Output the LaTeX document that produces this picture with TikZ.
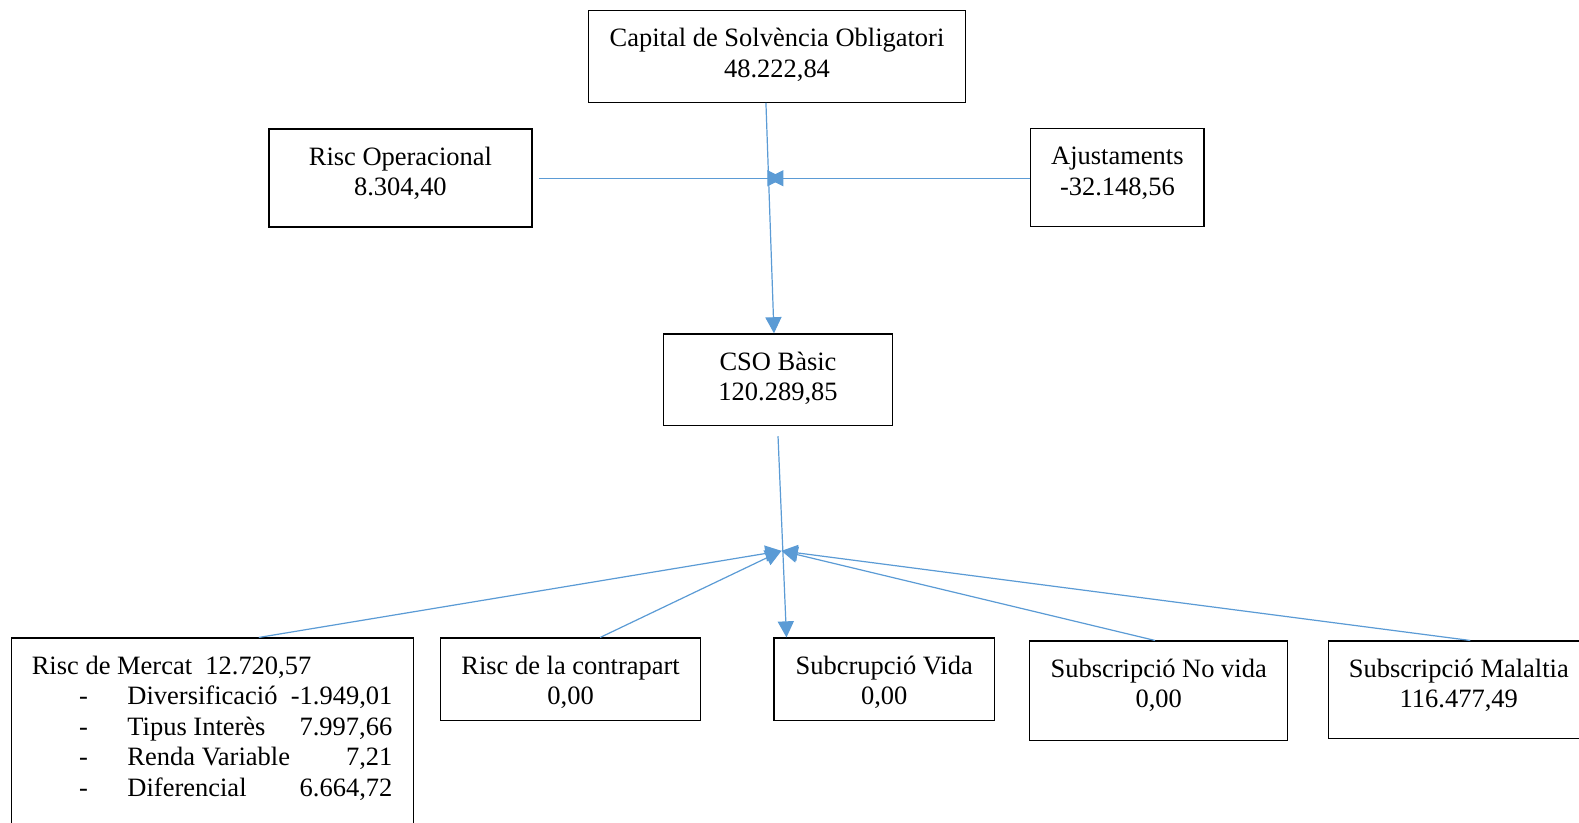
\documentclass[tikz,border=0pt]{standalone}
\usepackage{fontspec}
\setmainfont{Liberation Serif}
\usetikzlibrary{arrows.meta}
\definecolor{linkblue}{HTML}{5B9BD5}
% box text: width, height, lines (first baseline 36pt below the top)
\newcommand{\boxtext}[3]{\parbox[c][#2pt][t]{#1pt}{\centering\rule{0pt}{36pt}#3}}
% one line of the market risk box: name, value
\newcommand{\mrow}[2]{\hspace*{67pt}\makebox[48pt][l]{-}\makebox[263pt]{#1\hfill #2}}
\tikzset{
        x=1pt, y=-1pt, % pixel units, y grows downwards
        every node/.style={font=\fontsize{26.3}{30.3}\selectfont},
        box/.style={draw, line width=1.2pt, inner sep=0pt, anchor=north west}, % all rectangles
        link/.style={draw=linkblue, line width=1.2pt, -{Triangle[length=16pt,width=16pt]}}, % blue connectors
    }

\begin{document}
\begin{tikzpicture}
    \clip (0,0) rectangle (1568,817);
    \useasboundingbox (0,0) rectangle (1568,817);
    % top part
    \node[box] (cap) at (584,10) {\boxtext{374}{91}{Capital de Solvència Obligatori\\48.222,84}};
    \node[box, line width=2.2pt] (op) at (266,127) {\boxtext{261}{97}{Risc Operacional\\8.304,40}};
    \node[box] (aj) at (1023,127) {\boxtext{172}{97}{Ajustaments\\-32.148,56}};
    \node[box] (cso) at (658,331) {\boxtext{228}{91}{CSO Bàsic\\120.289,85}};
    % risk modules
    \node[box] (mer) at (11,633) {\parbox[c][217pt][t]{399pt}{\raggedright\rule{0pt}{36pt}\hspace*{20pt}Risc de Mercat\ \ 12.720,57\\
        \mrow{Diversificació}{-1.949,01}\\
        \mrow{Tipus Interès}{7.997,66}\\
        \mrow{Renda Variable}{7,21}\\
        \mrow{Diferencial}{6.664,72}}};
    \node[box] (con) at (437,633) {\boxtext{258}{82}{Risc de la contrapart\\0,00}};
    \node[box] (vida) at (768,633) {\boxtext{219}{82}{Subcrupció Vida\\0,00}};
    \node[box] (nov) at (1022,636) {\boxtext{256}{99}{Subscripció No vida\\0,00}};
    \node[box] (mal) at (1319,636) {\boxtext{258}{97}{Subscripció Malaltia\\116.477,49}};
    % meeting points of the arrows
    \coordinate (jt) at (770,177);
    \coordinate (jb) at (776,547);
    \draw[link] ([xshift=-11pt]cap.south) -- ([xshift=-4pt]cso.north);
    \draw[link, shorten <=6pt] (op.east |- jt) -- ([xshift=8pt]jt);
    \draw[link] (aj.west |- jt) -- ([xshift=-8pt]jt);
    \draw[link] ([yshift=-10pt]cso.south) -- ([xshift=13pt]vida.north west);
    \draw[link] ([xshift=246pt]mer.north west) -- (jb);
    \draw[link] ([xshift=159pt]con.north west) -- (jb);
    \draw[link] ([xshift=125pt]nov.north west) -- (jb);
    \draw[link] ([xshift=141pt]mal.north west) -- (jb);
\end{tikzpicture}
\end{document}
